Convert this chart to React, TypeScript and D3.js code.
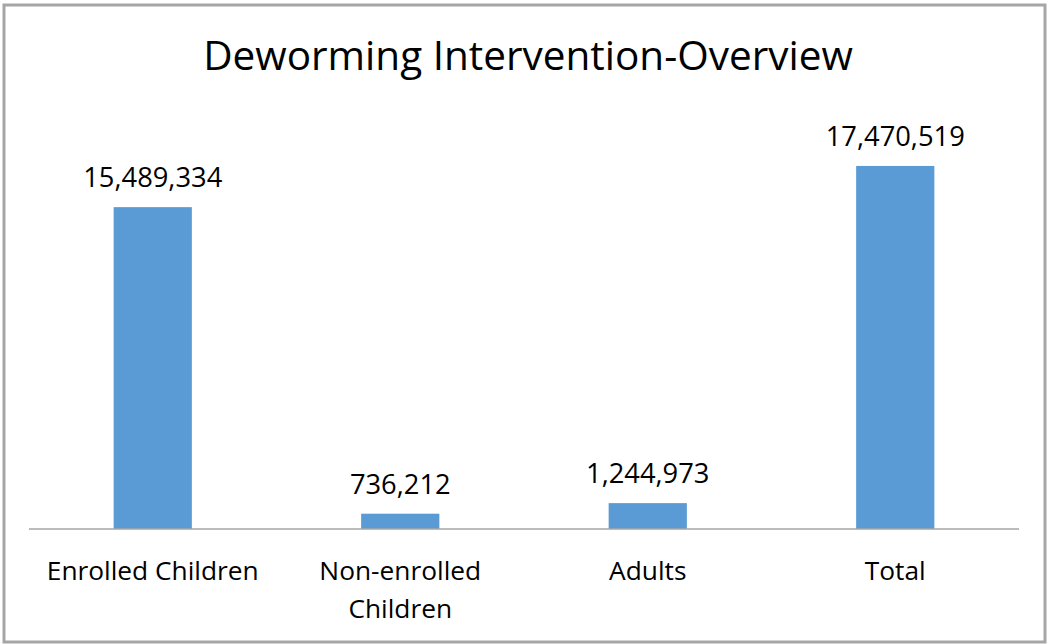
import React from 'react';
import * as d3 from 'd3';

const categories = ['Enrolled Children', 'Non-enrolled Children', 'Adults', 'Total'];
const categoryLines = [['Enrolled Children'], ['Non-enrolled', 'Children'], ['Adults'], ['Total']];
const values = [15489334, 736212, 1244973, 17470519];
const title = 'Deworming Intervention-Overview';

const W = 1048;
const H = 644;
const FONT = "'Open Sans', 'Liberation Sans', sans-serif";

export default function App() {
  const plotLeft = 29;
  const plotRight = 1019;
  const baseY = 529;

  const x = d3.scaleBand<string>()
    .domain(categories)
    .range([plotLeft, plotRight])
    .padding(0);

  // max of the value axis is 20M (hidden axis)
  const y = d3.scaleLinear()
    .domain([0, 20000000])
    .range([baseY, 113.4]);

  const barW = x.bandwidth() * 0.316;
  const fmt = d3.format(',');

  return (
    <svg width={W} height={H} style={{ position: 'absolute', left: 0, top: 0 }} fontFamily={FONT}>
      <rect x={0} y={0} width={W} height={H} fill="#fff" />
      <rect x={4} y={5} width={1041} height={637} fill="#fff" stroke="#a6a6a6" strokeWidth={3} />

      <text x={528} y={70} textAnchor="middle" fontSize={40.5} fill="#000">{title}</text>

      {categories.map((c, i) => {
        const cx = x(c)! + x.bandwidth() / 2;
        const top = y(values[i]);
        return (
          <g key={c}>
            <rect x={cx - barW / 2} y={top} width={barW} height={baseY - top} fill="#5b9bd5" />
            <text x={cx} y={top - 20} textAnchor="middle" fontSize={27.3} fill="#000">{fmt(values[i])}</text>
            {categoryLines[i].map((line, j) => (
              <text key={j} x={cx} y={580 + j * 38} textAnchor="middle" fontSize={26.3} fill="#000">{line}</text>
            ))}
          </g>
        );
      })}

      <line x1={plotLeft} x2={plotRight} y1={baseY} y2={baseY} stroke="#a6a6a6" strokeWidth={1.5} />
    </svg>
  );
}
